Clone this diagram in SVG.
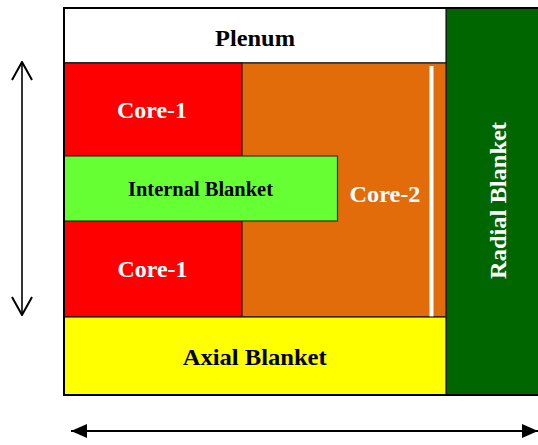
<svg xmlns="http://www.w3.org/2000/svg" width="538" height="445" viewBox="0 0 538 445">
<defs>
<style>
.t{font-family:"Liberation Serif","Times New Roman",serif;font-weight:bold;font-size:24px;text-anchor:middle}
.w{fill:#ffffff}
.k{fill:#000000}
.cell{stroke:#1a1a1a;stroke-width:1.2}
</style>
<marker id="open" viewBox="0 0 20 24" refX="19" refY="12" markerWidth="20" markerHeight="24" markerUnits="userSpaceOnUse" orient="auto-start-reverse">
<path d="M1,2 L19,12 L1,22" fill="none" stroke="#000" stroke-width="2"/>
</marker>
<marker id="fill" viewBox="0 0 16 14" refX="16" refY="7" markerWidth="16" markerHeight="14" markerUnits="userSpaceOnUse" orient="auto-start-reverse">
<path d="M0,0 L16,7 L0,14 Z" fill="#000"/>
</marker>
</defs>
<rect width="538" height="445" fill="#ffffff"/>
<g id="radial-blanket">
<rect class="cell" x="446" y="8" width="96" height="387" fill="#006600" stroke-width="2"/>
<text class="t w" transform="translate(506,200.5) rotate(-90)" textLength="157" lengthAdjust="spacingAndGlyphs">Radial Blanket</text>
</g>
<g id="plenum">
<rect class="cell" x="64" y="8" width="382" height="55" fill="#ffffff"/>
<text class="t k" x="255" y="46" textLength="80" lengthAdjust="spacingAndGlyphs">Plenum</text>
</g>
<g id="core-2">
<rect class="cell" x="64" y="63" width="382" height="254" fill="#E26B0A"/>
<rect x="429.5" y="66" width="4" height="251" fill="#ffffff"/>
<text class="t w" x="385" y="201.5" textLength="71" lengthAdjust="spacingAndGlyphs">Core-2</text>
</g>
<g id="core-1-top">
<rect class="cell" x="64" y="63" width="178" height="93" fill="#FF0000"/>
<text class="t w" x="152" y="118" textLength="70" lengthAdjust="spacingAndGlyphs">Core-1</text>
</g>
<g id="core-1-bottom">
<rect class="cell" x="64" y="221" width="178" height="96" fill="#FF0000"/>
<text class="t w" x="152.5" y="277" textLength="70" lengthAdjust="spacingAndGlyphs">Core-1</text>
</g>
<g id="internal-blanket">
<rect x="64" y="156" width="273.5" height="65" fill="#66FF33" stroke="#2b3a1f" stroke-width="1.2"/>
<text class="t k" x="200.5" y="196" style="font-size:20px" textLength="145" lengthAdjust="spacingAndGlyphs">Internal Blanket</text>
</g>
<g id="axial-blanket">
<rect class="cell" x="64" y="317" width="382" height="78" fill="#FFFF00"/>
<text class="t k" x="254.7" y="365" textLength="144" lengthAdjust="spacingAndGlyphs">Axial Blanket</text>
</g>
<g id="frame">
<rect x="64" y="8" width="480" height="387" fill="none" stroke="#000" stroke-width="2"/>
</g>
<g id="connectors">
<line x1="22" y1="62" x2="22" y2="315" stroke="#000" stroke-width="1.6" marker-start="url(#open)" marker-end="url(#open)"/>
<line x1="71" y1="431" x2="538" y2="431" stroke="#000" stroke-width="1.8" marker-start="url(#fill)" marker-end="url(#fill)"/>
</g>
</svg>
